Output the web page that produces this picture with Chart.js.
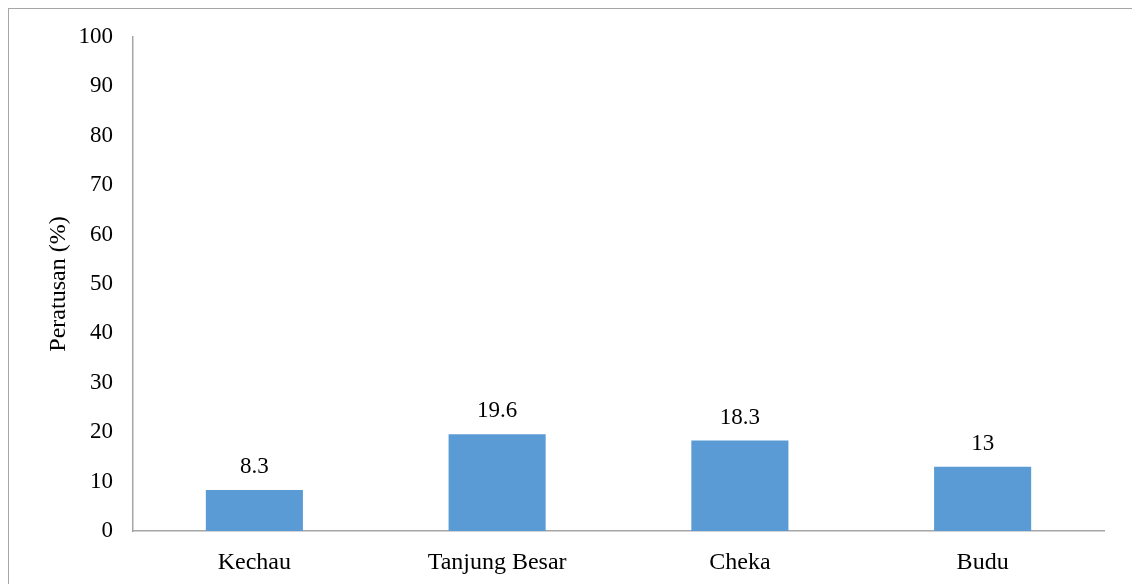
<!DOCTYPE html>
<html>
<head>
<meta charset="utf-8">
<script src="https://cdn.jsdelivr.net/npm/chart.js@4.4.0/dist/chart.umd.min.js"></script>
<style>
  html, body { margin: 0; padding: 0; background: #fff; }
  #wrap { position: relative; width: 1132px; height: 584px; overflow: hidden; }
  #frame { position: absolute; left: 8px; top: 8px; width: 1140px; height: 600px;
           border: 1.5px solid #a6a6a6; box-sizing: border-box; pointer-events: none; }
  canvas { position: absolute; left: 0; top: 0; }
</style>
</head>
<body>
<div id="wrap">
  <canvas id="chart" width="1132" height="584"></canvas>
  <div id="frame"></div>
</div>
<script>
'use strict';

/* ── Data ── */
const categories = ['Kechau', 'Tanjung Besar', 'Cheka', 'Budu'];
const values     = [8.3, 19.6, 18.3, 13];
const yTicks     = [0, 10, 20, 30, 40, 50, 60, 70, 80, 90, 100];

const FONT = 'Liberation Serif, "Times New Roman", serif';

/* ── Value labels above bars ── */
const valueLabels = {
  id: 'valueLabels',
  afterDatasetsDraw(chart) {
    const ctx = chart.ctx;
    const meta = chart.getDatasetMeta(0);
    ctx.save();
    ctx.font = '23px ' + FONT;
    ctx.fillStyle = '#000';
    ctx.textAlign = 'center';
    ctx.textBaseline = 'alphabetic';
    meta.data.forEach((bar, i) => {
      ctx.fillText(String(values[i]), bar.x, bar.y - 17);
    });
    ctx.restore();
  }
};

new Chart(document.getElementById('chart'), {
  type: 'bar',
  data: {
    labels: categories,
    datasets: [{
      data: values,
      backgroundColor: '#5b9bd5',
      categoryPercentage: 1,
      barPercentage: 0.4,
    }]
  },
  plugins: [valueLabels],
  options: {
    responsive: false,
    animation: false,
    layout: { padding: { left: 0, top: 37, right: 28, bottom: 0 } },
    plugins: { legend: { display: false }, tooltip: { enabled: false } },
    scales: {
      x: {
        grid: { display: false, drawTicks: false },
        border: { color: '#a6a6a6', width: 1.5 },
        ticks: { color: '#000', font: { family: FONT, size: 24 }, padding: 17, maxRotation: 0 },
        afterFit(scale) { scale.height = 53; }
      },
      y: {
        min: 0, max: 100,
        afterBuildTicks(scale) { scale.ticks = yTicks.map(v => ({ value: v })); },
        grid: { display: false, drawTicks: false },
        border: { color: '#a6a6a6', width: 1.5 },
        ticks: { color: '#000', font: { family: FONT, size: 23 }, padding: 20 },
        title: {
          display: true,
          text: 'Peratusan (%)',
          color: '#000',
          font: { family: FONT, size: 24 },
          padding: { top: 44, bottom: 0 }
        },
        afterFit(scale) { scale.width = 133; }
      }
    }
  }
});
</script>
</body>
</html>
